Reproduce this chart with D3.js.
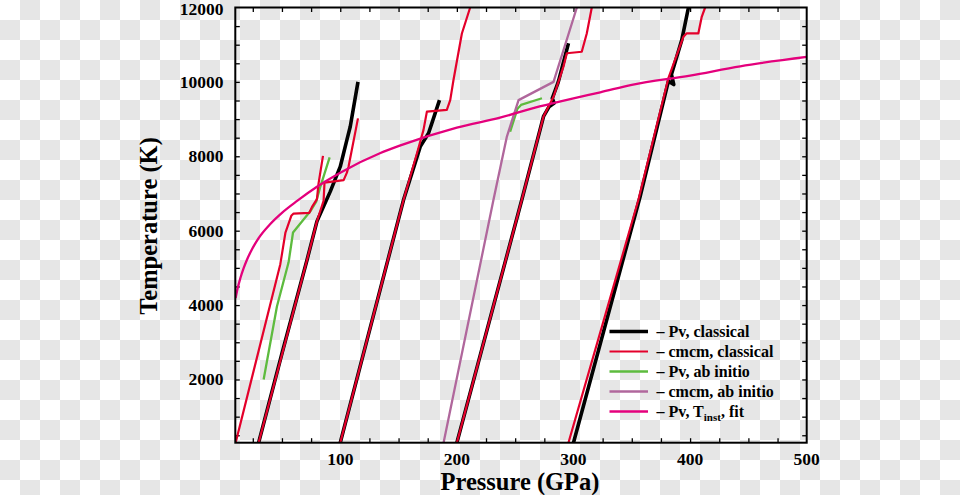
<!DOCTYPE html>
<html><head><meta charset="utf-8">
<script src="https://cdn.jsdelivr.net/npm/d3@7"></script>
<style>html,body{margin:0;padding:0;background:#fff;}svg{display:block;}</style>
</head><body>
<svg id="chart" width="960" height="495"></svg>
<script>
// ---- data (Pressure GPa, Temperature K) ----
const xTickLabels = [100, 200, 300, 400, 500];
const yTickLabels = [2000, 4000, 6000, 8000, 10000, 12000];

// Pv, classical (black)
const pvClassical = [
  [[30,300],[50,2700],[71.5,5213],[80,6250],[91.4,7050],[100,7720],[105.7,8440],[108.6,8800],[115.2,10000]],
  [[100,300],[154.3,6830],[168.6,8260],[175.7,8620],[178.6,8890],[185.1,9510]],
  [[200,300],[255.7,6830],[274.3,9070],[279,9330],[283.5,9430],[281.8,9560],[287,10000],[295.7,11040]],
  [[300,300],[357,6900],[381.4,10020],[386,9930],[384,10200],[392.9,11130],[398.6,12000]]
];
// cmcm, classical (red)
const cmcmClassical = [
  [[10.3,300],[48.6,5100],[53,5950],[58,6400],[60,6460],[73.5,6480],[75.8,6640],[80,6850],[81.4,7270],[85.2,8010]],
  [[30,300],[71.5,5213],[80,6250],[85.7,6800],[86.5,7290],[102.9,7360],[105.7,7560],[107.1,7720],[115.2,9020]],
  [[100,300],[154.3,6830],[166,8100],[171.4,8710],[174.3,9200],[191.4,9250],[194.3,9510],[197.1,10050],[204.3,11300],[211.4,12000]],
  [[200,300],[255.7,6830],[274.3,9070],[282.9,9600],[291.4,10410],[294.3,10770],[307.1,10810],[311.4,11300],[315.7,12000]],
  [[295.7,300],[355.7,6830],[381.4,10100],[394.3,11215],[397.1,11306],[407.1,11306],[410,11750],[412.9,12000]]
];
// Pv, ab initio (green)
const pvAbInitio = [
  [[34.3,2000],[45.7,3960],[55.7,5150],[59.5,5950],[74.3,6520],[79.4,6780],[82.9,7180],[90.9,7970]],
  [[245.7,8660],[252,9280],[255,9380],[273,9560]]
];
// cmcm, ab initio (purple)
const cmcmAbInitio = [
  [[188.6,300],[231.4,6830],[242.9,8530],[252.9,9510],[282.9,10000],[302.9,12000]]
];
// Pv, T_inst fit (magenta)
const fitP = [10.3,12,14.3,17,20,23,30,40,50,63,81,100,134,151,200,237,271,300,323,350,400,443,500];
const fitT = [4190,4450,4720,4980,5220,5420,5800,6180,6480,6800,7200,7560,8080,8285,8770,9040,9340,9560,9720,9920,10170,10420,10670];

const legendLabels = ["Pv, classical","cmcm, classical","Pv, ab initio","cmcm, ab initio","Pv, T_inst, fit"];

// ---- layout ----
const W = 960, H = 495;
const L = 235.3, R = 806.7, T = 7.5, B = 442.7;
const svg = d3.select("#chart");
const x = d3.scaleLinear().domain([10, 500]).range([L, R]);
const y = d3.scaleLinear().domain([300, 12000]).range([B, T]);
const font = "'Liberation Serif','Times New Roman',Times,serif";

const colors = {black:"#000000", red:"#e4002b", green:"#5dbb3e", purple:"#b0679c", magenta:"#e4007c"};

// checkerboard background (20px squares)
svg.append("rect").attr("width",W).attr("height",H).style("fill","#ffffff");
const cells = [];
for (let i = 0; i < 48; i++) for (let j = 0; j < 25; j++) if ((i + j) % 2 === 1) cells.push([i, j]);
svg.append("g").attr("class","checker").selectAll("rect").data(cells).join("rect")
  .attr("x", d=>d[0]*20).attr("y", d=>d[1]*20).attr("width",20).attr("height",20)
  .style("fill","#e6e6e6");

svg.append("defs").append("clipPath").attr("id","clip").append("rect")
  .attr("x",L).attr("y",T).attr("width",R-L).attr("height",B-T);

// axes with inward ticks
const xMinor = d3.range(25, 500, 25);
const yMinor = d3.range(500, 12000, 500);
const tl = 4.5;
svg.append("g").attr("transform",`translate(0,${B})`)
  .call(d3.axisBottom(x).tickValues(xMinor).tickSize(-tl).tickFormat(""))
  .call(g=>g.select(".domain").remove());
svg.append("g").attr("transform",`translate(0,${T})`)
  .call(d3.axisTop(x).tickValues(xMinor).tickSize(-tl).tickFormat(""))
  .call(g=>g.select(".domain").remove());
svg.append("g").attr("transform",`translate(${L},0)`)
  .call(d3.axisLeft(y).tickValues(yMinor).tickSize(-tl).tickFormat(""))
  .call(g=>g.select(".domain").remove());
svg.append("g").attr("transform",`translate(${R},0)`)
  .call(d3.axisRight(y).tickValues(yMinor).tickSize(-tl).tickFormat(""))
  .call(g=>g.select(".domain").remove());
svg.selectAll(".tick line").attr("stroke","#000").attr("stroke-width",1.3);

// tick labels
svg.append("g").selectAll("text").data(xTickLabels).join("text")
  .attr("x", d=>x(d)).attr("y", 465).attr("text-anchor","middle")
  .style("font-family",font).attr("font-weight","bold").attr("font-size",17.5)
  .text(d=>d);
svg.append("g").selectAll("text").data(yTickLabels).join("text")
  .attr("x", 223.5).attr("y", d=>Math.max(y(d)+6, 14.5)).attr("text-anchor","end")
  .style("font-family",font).attr("font-weight","bold").attr("font-size",17.5)
  .text(d=>d);

// axis titles
svg.append("text").attr("x",520).attr("y",490).attr("text-anchor","middle")
  .style("font-family",font).attr("font-weight","bold").attr("font-size",24.5)
  .text("Pressure (GPa)");
svg.append("text").attr("transform","translate(157,226) rotate(-90)").attr("text-anchor","middle")
  .style("font-family",font).attr("font-weight","bold").attr("font-size",24.5)
  .text("Temperature (K)");

// lines
const line = d3.line().x(d=>x(d[0])).y(d=>y(d[1]));
const plot = svg.append("g").attr("clip-path","url(#clip)");
function drawSeries(arr, color, w){
  plot.append("g").selectAll("path").data(arr).join("path")
    .attr("d", line).attr("fill","none").attr("stroke",color)
    .attr("stroke-width",w).attr("stroke-linejoin","round").attr("stroke-linecap","butt");
}
drawSeries(pvClassical, colors.black, 3.6);
drawSeries(pvAbInitio, colors.green, 2.3);
drawSeries(cmcmAbInitio, colors.purple, 2.3);
drawSeries(cmcmClassical, colors.red, 2.2);
const fitData = fitP.map((p,i)=>[p, fitT[i]]);
plot.append("path").datum(fitData)
  .attr("d", d3.line().x(d=>x(d[0])).y(d=>y(d[1])).curve(d3.curveMonotoneX))
  .attr("fill","none").attr("stroke",colors.magenta).attr("stroke-width",2.3);

// frame
svg.append("rect").attr("x",L).attr("y",T).attr("width",R-L).attr("height",B-T)
  .attr("fill","none").attr("stroke","#000").attr("stroke-width",2);

// legend
const legColors = [colors.black, colors.red, colors.green, colors.purple, colors.magenta];
const legW = [3.6, 2.2, 2.3, 2.3, 2.3];
const leg = svg.append("g");
legendLabels.forEach((lab,i)=>{
  const ly = 331.5 + i*20;
  leg.append("line").attr("x1",609.5).attr("x2",648).attr("y1",ly).attr("y2",ly)
    .attr("stroke",legColors[i]).attr("stroke-width",legW[i]);
  const t = leg.append("text").attr("x",656.5).attr("y",ly+5)
    .style("font-family",font).attr("font-weight","bold").attr("font-size",16);
  if (lab.indexOf("T_inst")>=0){
    t.append("tspan").text("\u2013 Pv, T");
    t.append("tspan").attr("dy",4).attr("font-size",11).text("inst");
    t.append("tspan").attr("dy",-4).text(", fit");
  } else {
    t.text("\u2013 " + lab);
  }
});
</script>
</body></html>
